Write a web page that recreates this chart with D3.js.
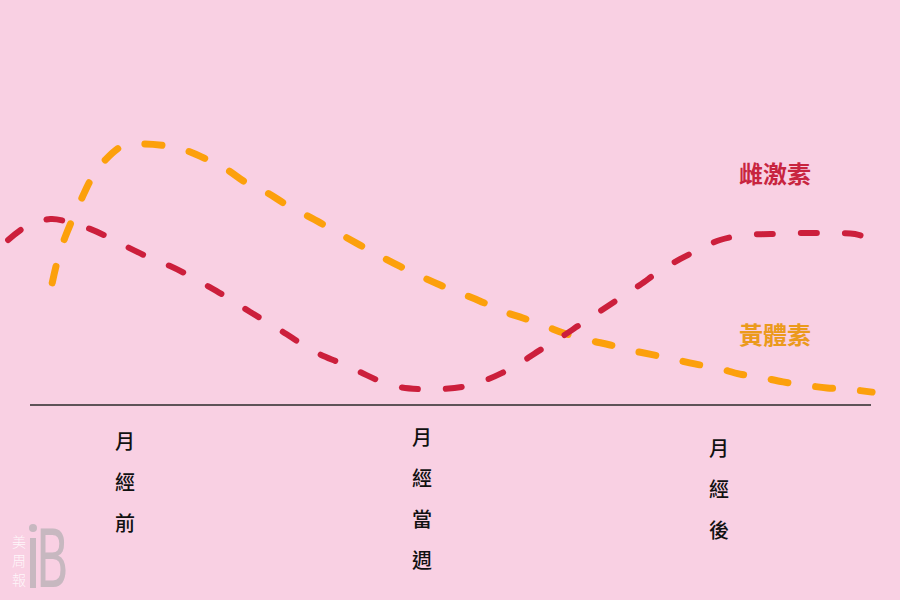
<!DOCTYPE html>
<html>
<head>
<meta charset="utf-8">
<script src="https://cdn.jsdelivr.net/npm/d3@7"></script>
<style>
  html, body { margin: 0; padding: 0; background: #f9d0e3; }
  svg { display: block; }
</style>
</head>
<body>
<svg id="chart" width="900" height="600"></svg>
<script>
// ---- data (time t: 0..100 across the cycle, level: 0..100 relative) ----
const categories = ["月經前", "月經當週", "月經後"];
const seriesNames = ["雌激素", "黃體素"];

const estrogenT = [0.9, 2.8, 5.6, 7.6, 10, 12.2, 14.4, 16.7, 18.9, 21.1, 23.3, 25, 27.8, 31.1, 35, 37.8, 40, 42.2, 44.4, 46.7, 48.9, 51.3, 53.7, 55.8, 57.8, 60, 62.2, 64.4, 66.7, 68.9, 71.1, 73.3, 75.6, 77.8, 80, 82.8, 85.6, 88.9, 92.8, 95, 97.2, 98.1];
const estrogenLevel = [55, 59.3, 62, 61, 58.7, 55.7, 52.3, 49, 46.3, 43, 39.3, 36.3, 31, 25, 17.7, 14, 11, 8, 6, 5.3, 5.3, 6, 8, 10.7, 14, 18.3, 22.3, 26.7, 31.3, 35.7, 40, 44.7, 48.7, 52, 55, 56.7, 57, 57.3, 57.3, 57, 54.7, 53.3];

const progesteroneT = [5.8, 6.4, 7.2, 8.1, 9.1, 10.2, 11.7, 13.6, 15.9, 18.6, 20.8, 23.1, 25.3, 27.4, 29.7, 31.7, 35.6, 40, 44.4, 48.9, 53.3, 56.1, 58.1, 60.6, 62.6, 65.3, 67.8, 70, 72.6, 74.8, 77.2, 79.7, 82.2, 84.4, 87, 89.2, 91.9, 94.1, 96.9];
const progesteroneLevel = [40.7, 48.3, 55.7, 62.3, 69, 75.7, 81.7, 86.3, 87, 86.3, 84.7, 81.7, 78.3, 74, 70.7, 67, 60.7, 53.3, 46.3, 40, 34.7, 31, 29, 26.3, 24, 21.7, 20, 18.3, 16.7, 15.3, 13.7, 12.3, 10.3, 9.3, 7.7, 6.7, 5.7, 5.3, 4.3];

const logoChars = ["美", "周", "報"];

// ---- drawing ----
const svg = d3.select("#chart");
const W = 900, H = 600;

svg.append("rect").attr("width", W).attr("height", H).attr("fill", "#f9d0e3");

const x = d3.scaleLinear().domain([0, 100]).range([0, 900]);
const y = d3.scaleLinear().domain([0, 100]).range([405, 105]);
const cat = d3.scalePoint().domain(categories).range([125, 719]);

// axis baseline
svg.append("line")
  .attr("x1", 30).attr("x2", 871)
  .attr("y1", y(0)).attr("y2", y(0))
  .attr("stroke", "#2a2a2a").attr("stroke-width", 1.4);

const line = d3.line()
  .x(d => x(d[0]))
  .y(d => y(d[1]))
  .curve(d3.curveCatmullRom.alpha(0.5));

const estrogen = estrogenT.map((t, i) => [t, estrogenLevel[i]]);
const progesterone = progesteroneT.map((t, i) => [t, progesteroneLevel[i]]);

svg.append("path")
  .datum(progesterone)
  .attr("d", line)
  .attr("fill", "none")
  .attr("stroke", "#fca00c")
  .attr("stroke-width", 7)
  .attr("stroke-linecap", "round")
  .attr("stroke-dasharray", "17 28");

svg.append("path")
  .datum(estrogen)
  .attr("d", line)
  .attr("fill", "none")
  .attr("stroke", "#cc1f3c")
  .attr("stroke-width", 6)
  .attr("stroke-linecap", "round")
  .attr("stroke-dasharray", "16 28");

// series labels
const font = "'Noto Sans CJK TC', 'Noto Sans CJK SC', sans-serif";
svg.append("text")
  .attr("x", 775).attr("y", 172)
  .attr("text-anchor", "middle").attr("dominant-baseline", "central")
  .attr("font-family", font).attr("font-size", 24).attr("font-weight", 700)
  .attr("fill", "#c8253f")
  .text(seriesNames[0]);
svg.append("text")
  .attr("x", 775).attr("y", 333)
  .attr("text-anchor", "middle").attr("dominant-baseline", "central")
  .attr("font-family", font).attr("font-size", 24).attr("font-weight", 700)
  .attr("fill", "#eb9a1c")
  .text(seriesNames[1]);

// vertical category labels
const catTop = [440, 436, 447];
categories.forEach((c, i) => {
  const chars = Array.from(c);
  svg.append("g").selectAll("text")
    .data(chars)
    .join("text")
    .attr("x", cat(c))
    .attr("y", (d, j) => catTop[i] + j * 41)
    .attr("text-anchor", "middle").attr("dominant-baseline", "central")
    .attr("font-family", font).attr("font-size", 20).attr("font-weight", 500)
    .attr("fill", "#111")
    .text(d => d);
});

// watermark logo
const logo = svg.append("g");
logo.append("text")
  .attr("transform", "translate(36,587) scale(0.6,1)")
  .attr("font-family", "'DejaVu Sans', sans-serif").attr("font-size", 80)
  .attr("fill", "#c7b8c0")
  .text("B");
logo.append("rect").attr("x", 30).attr("y", 538).attr("width", 6).attr("height", 50).attr("fill", "#c7b8c0");
logo.append("circle").attr("cx", 33).attr("cy", 528).attr("r", 4).attr("fill", "#c7b8c0");
logo.selectAll("text.lc")
  .data(logoChars)
  .join("text")
  .attr("class", "lc")
  .attr("x", 19)
  .attr("y", (d, j) => 541 + j * 19)
  .attr("text-anchor", "middle").attr("dominant-baseline", "central")
  .attr("font-family", font).attr("font-size", 14).attr("font-weight", 300)
  .attr("fill", "#ffffff").attr("fill-opacity", 0.85)
  .text(d => d);
</script>
</body>
</html>
